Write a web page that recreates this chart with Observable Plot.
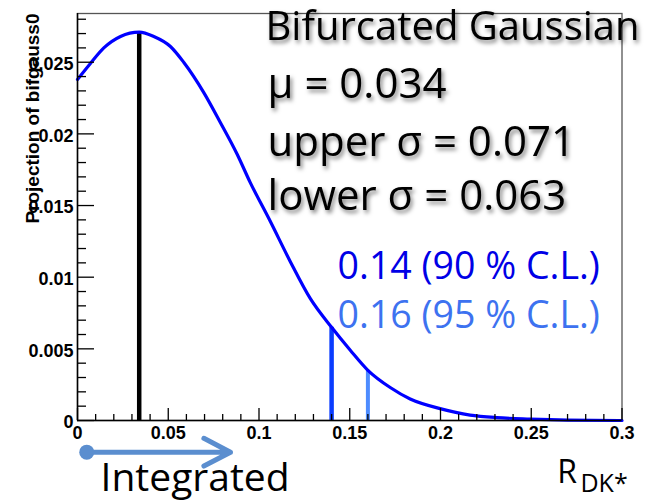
<!DOCTYPE html>
<html>
<head>
<meta charset="utf-8">
<script src="https://cdn.jsdelivr.net/npm/d3@7"></script>
<script src="https://cdn.jsdelivr.net/npm/@observablehq/plot@0.6"></script>
<style>
  html, body { margin: 0; padding: 0; background: #fff; }
  #chart svg { display: block; }
</style>
</head>
<body>
<div id="chart"></div>
<script>
// Fitted bifurcated Gaussian, projected on R_DK*
const rValues = [0, 0.007, 0.0145, 0.0237, 0.034, 0.042, 0.0512, 0.0585, 0.0695, 0.0787,
                 0.0879, 0.0952, 0.1062, 0.1172, 0.1283, 0.14, 0.1503, 0.16, 0.1723, 0.1833,
                 0.1998, 0.2163, 0.231, 0.2494, 0.27, 0.3];
const density = [0.0238, 0.0249, 0.0260, 0.0268, 0.0271, 0.0268, 0.0261, 0.0250, 0.0229, 0.0208,
                 0.0186, 0.0166, 0.0139, 0.0111, 0.0085, 0.0065, 0.0049, 0.0035, 0.0023, 0.0015,
                 0.00083, 0.00038, 0.0002, 0.0001, 0.00003, 0];

// Mean and upper limits drawn as vertical lines under the curve
const limitX = [0.034, 0.14, 0.16];
const limitColors = ["#000000", "#0a3cff", "#4d8cff"];
const limitWidths = [4.5, 4.5, 4];

// Axis ticks
const xTicks = [0, 0.05, 0.1, 0.15, 0.2, 0.25, 0.3];
const xTickLabels = ["0", "0.05", "0.1", "0.15", "0.2", "0.25", "0.3"];
const yTicks = [0, 0.005, 0.01, 0.015, 0.02, 0.025];
const yTickLabels = ["0", "0.005", "0.01", "0.015", "0.02", "0.025"];

// Annotation texts
const titleText = "Bifurcated Gaussian";
const fitLines = ["μ = 0.034", "upper σ = 0.071", "lower σ = 0.063"];
const clLines = ["0.14 (90 % C.L.)", "0.16 (95 % C.L.)"];
const clColors = ["#0000e6", "#3d72f0"];
const yTitle = "Projection of bifgauss0";

const curve = rValues.map((x, i) => ({x, y: density[i]}));
const limits = limitX.map((x, i) => ({
  x,
  top: density[rValues.indexOf(x)],
  color: limitColors[i],
  width: limitWidths[i]
}));

const xMinor = d3.range(0, 0.3001, 0.01).map(v => +v.toFixed(3)).filter(v => !xTicks.includes(v));
const yMinor = d3.range(0, 0.0285, 0.001).map(v => +v.toFixed(4)).filter(v => !yTicks.includes(v));

const rootFont = "'Liberation Sans', Arial, sans-serif";
const slideFont = "'Open Sans', sans-serif";
const arrowColor = "#5b8ecf";

const chart = Plot.plot({
  width: 657,
  height: 502,
  marginLeft: 77,
  marginRight: 35.5,
  marginTop: 13,
  marginBottom: 82,
  x: {domain: [0, 0.3], label: null, axis: null},
  y: {domain: [0, 0.0284], label: null, axis: null},
  marks: [
    Plot.frame({stroke: "#555", strokeWidth: 1.3}),
    // vertical lines at the mean and the limits
    Plot.ruleX(limits, {x: "x", y1: 0, y2: "top", stroke: "color", strokeWidth: "width"}),
    // fitted curve
    Plot.line(curve, {x: "x", y: "y", stroke: "#0000ff", strokeWidth: 3.2, curve: "monotone-x"}),
    // axes, ROOT style: ticks pointing into the frame
    Plot.ruleX([0], {stroke: "#000", strokeWidth: 1.5}),
    Plot.ruleY([0], {stroke: "#000", strokeWidth: 1.5}),
    Plot.axisY(yMinor, {tickSize: -9, tickFormat: () => "", strokeWidth: 1.3}),
    Plot.axisY(yTicks, {tickSize: -17, tickFormat: () => "", strokeWidth: 1.3}),
    Plot.axisY(yTicks, {
      tickSize: 0, tickPadding: 4, dy: 2,
      tickFormat: d => yTickLabels[yTicks.indexOf(d)],
      fontSize: 18, fontWeight: "bold", fontFamily: rootFont, fill: "#000"
    }),
    Plot.axisX(xMinor, {tickSize: -6, tickFormat: () => "", strokeWidth: 1.3}),
    Plot.axisX(xTicks, {tickSize: -12, tickFormat: () => "", strokeWidth: 1.3}),
    Plot.axisX(xTicks, {
      tickSize: 0, tickPadding: 6,
      tickFormat: d => xTickLabels[xTicks.indexOf(d)],
      fontSize: 18, fontWeight: "bold", fontFamily: rootFont, fill: "#000"
    }),
    // y-axis title, right-aligned at the top
    Plot.text([yTitle], {
      frameAnchor: "top-left", rotate: -90, textAnchor: "end", lineAnchor: "bottom",
      dx: -39, fontSize: 19, fontWeight: "bold", fontFamily: rootFont, fill: "#000"
    }),
    // fit summary
    Plot.text([titleText], {
      x: 0.1036, y: 0.02655, textAnchor: "start", lineAnchor: "bottom",
      fontSize: 40, fontFamily: slideFont, fill: "#000"
    }),
    Plot.text(fitLines, {
      x: 0.1047, y: [0.02253, 0.01848, 0.01471], textAnchor: "start", lineAnchor: "bottom",
      fontSize: 42, fontFamily: slideFont, fill: "#000"
    }),
    Plot.text(clLines, {
      x: 0.1433, y: [0.00988, 0.00644], textAnchor: "start", lineAnchor: "bottom",
      fontSize: 37.5, fontFamily: slideFont, fill: clColors
    }),
    // integration direction below the axis
    Plot.arrow([{x1: 0.0051, x2: 0.0843, y: -0.00221}], {
      x1: "x1", x2: "x2", y1: "y", y2: "y",
      stroke: arrowColor, strokeWidth: 5, headLength: 9, headAngle: 55
    }),
    Plot.dot([{x: 0.0051, y: -0.00221}], {x: "x", y: "y", r: 7.5, fill: arrowColor}),
    Plot.text(["Integrated"], {
      x: 0.0127, y: -0.00495, textAnchor: "start", lineAnchor: "bottom",
      fontSize: 39, fontFamily: slideFont, fill: "#000"
    }),
    // axis variable R_DK*
    Plot.text(["R"], {
      x: 0.2643, y: -0.00439, textAnchor: "start", lineAnchor: "bottom",
      fontSize: 32, fontFamily: slideFont, fill: "#000"
    }),
    Plot.text(["DK*"], {
      x: 0.2771, y: -0.00502, textAnchor: "start", lineAnchor: "bottom",
      fontSize: 25, fontFamily: slideFont, fill: "#000"
    })
  ]
});

// soft shadow behind the fit summary
const svg = d3.select(chart);
svg.append("defs").append("filter")
    .attr("id", "text-shadow")
    .attr("x", "-10%").attr("y", "-30%")
    .attr("width", "130%").attr("height", "180%")
  .append("feDropShadow")
    .attr("dx", 2).attr("dy", 3)
    .attr("stdDeviation", 2)
    .attr("flood-color", "#000")
    .attr("flood-opacity", 0.5);
const shadowed = [titleText, ...fitLines];
svg.selectAll("text")
  .filter(function() { return shadowed.includes(this.textContent); })
  .attr("filter", "url(#text-shadow)");

document.getElementById("chart").appendChild(chart);
</script>
</body>
</html>
